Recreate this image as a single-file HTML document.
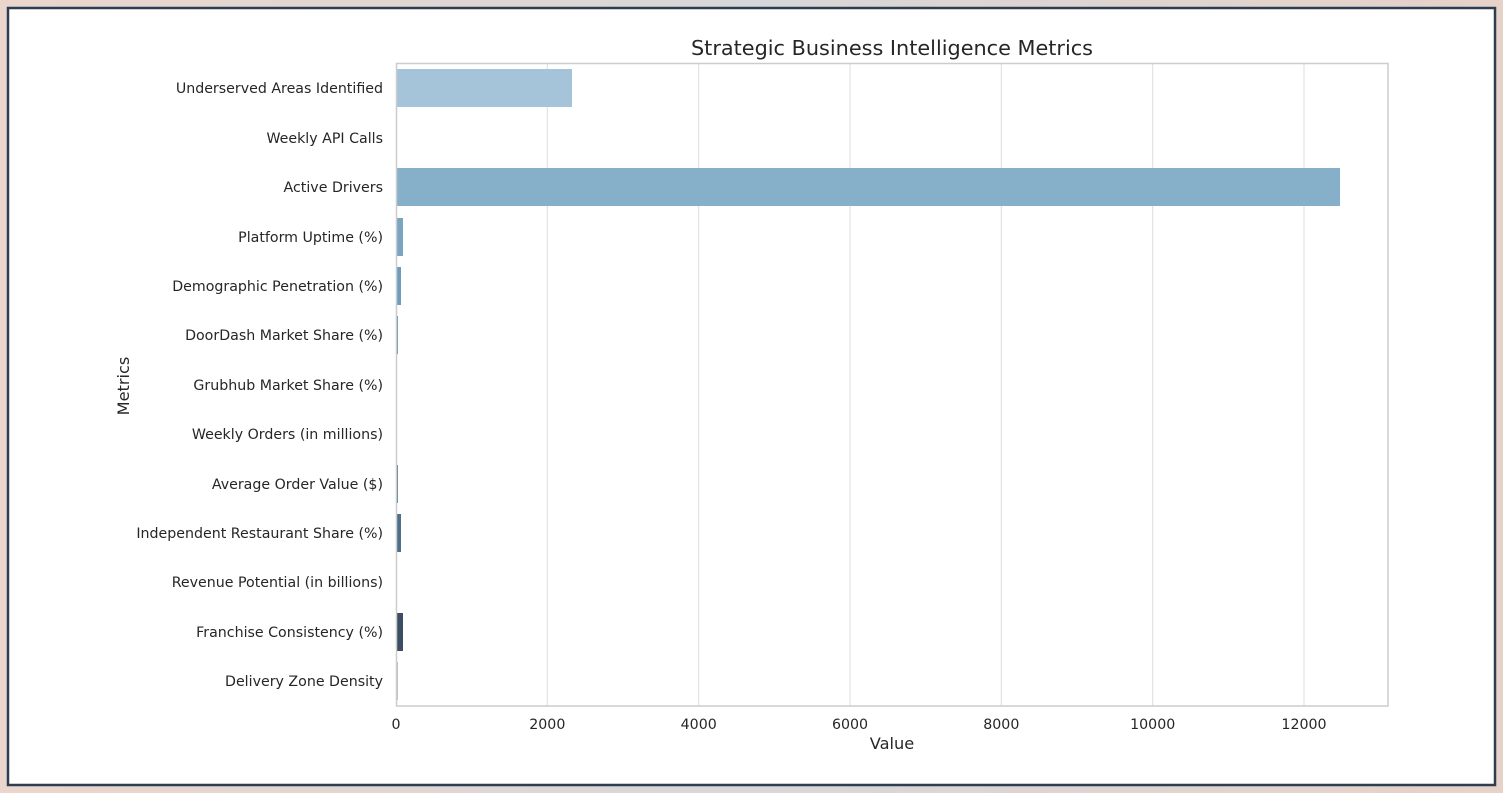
<!DOCTYPE html>
<html><head><meta charset="utf-8"><style>
html,body{margin:0;padding:0;width:1503px;height:793px;overflow:hidden;background:linear-gradient(90deg,#ead6cc,#d8d6d8 50%,#e6d2c8);}
svg{position:absolute;left:0;top:0}
text{font-family:"DejaVu Sans","Liberation Sans",sans-serif;fill:#262626}
</style></head><body>
<svg width="1503" height="793" xmlns="http://www.w3.org/2000/svg">
<rect x="8" y="8" width="1487" height="777" fill="#fff" stroke="#2c3e50" stroke-width="2.5"/>
<text x="892" y="55" font-size="20.8" text-anchor="middle">Strategic Business Intelligence Metrics</text>
<g stroke="#dcdcdc" stroke-width="1">
<line x1="547.3" y1="64" x2="547.3" y2="706"/>
<line x1="698.7" y1="64" x2="698.7" y2="706"/>
<line x1="850" y1="64" x2="850" y2="706"/>
<line x1="1001.3" y1="64" x2="1001.3" y2="706"/>
<line x1="1152.7" y1="64" x2="1152.7" y2="706"/>
<line x1="1304" y1="64" x2="1304" y2="706"/>
</g>
<g>
<rect x="396" y="69" width="176" height="38" fill="#a5c4da"/>
<rect x="396" y="168" width="944" height="38" fill="#86afca"/>
<rect x="396" y="218" width="7" height="38" fill="#7aa5c2"/>
<rect x="396" y="267" width="5" height="38" fill="#6f9cbb"/>
<rect x="396" y="316" width="2" height="38" fill="#6a95b3"/>
<rect x="396" y="465" width="2" height="38" fill="#5a7f9b"/>
<rect x="396" y="514" width="5" height="38" fill="#4e6f89"/>
<rect x="396" y="613" width="7" height="38" fill="#3a4f62"/>
<rect x="396" y="662" width="1.5" height="38" fill="#34495e"/>
</g>
<rect x="396.5" y="63.5" width="991.5" height="642.5" fill="none" stroke="#cccccc" stroke-width="1.5"/>
<g font-size="14.2" text-anchor="end">
<text x="383" y="93">Underserved Areas Identified</text>
<text x="383" y="143">Weekly API Calls</text>
<text x="383" y="192">Active Drivers</text>
<text x="383" y="242">Platform Uptime (%)</text>
<text x="383" y="291">Demographic Penetration (%)</text>
<text x="383" y="340">DoorDash Market Share (%)</text>
<text x="383" y="390">Grubhub Market Share (%)</text>
<text x="383" y="439">Weekly Orders (in millions)</text>
<text x="383" y="489">Average Order Value ($)</text>
<text x="383" y="538">Independent Restaurant Share (%)</text>
<text x="383" y="587">Revenue Potential (in billions)</text>
<text x="383" y="637">Franchise Consistency (%)</text>
<text x="383" y="686">Delivery Zone Density</text>
</g>
<g font-size="14.2" text-anchor="middle">
<text x="396" y="729">0</text>
<text x="547.3" y="729">2000</text>
<text x="698.7" y="729">4000</text>
<text x="850" y="729">6000</text>
<text x="1001.3" y="729">8000</text>
<text x="1152.7" y="729">10000</text>
<text x="1304" y="729">12000</text>
</g>
<text x="892" y="749" font-size="16.2" text-anchor="middle">Value</text>
<text x="129" y="386" font-size="16.2" text-anchor="middle" transform="rotate(-90 129 386)">Metrics</text>
</svg>
</body></html>
